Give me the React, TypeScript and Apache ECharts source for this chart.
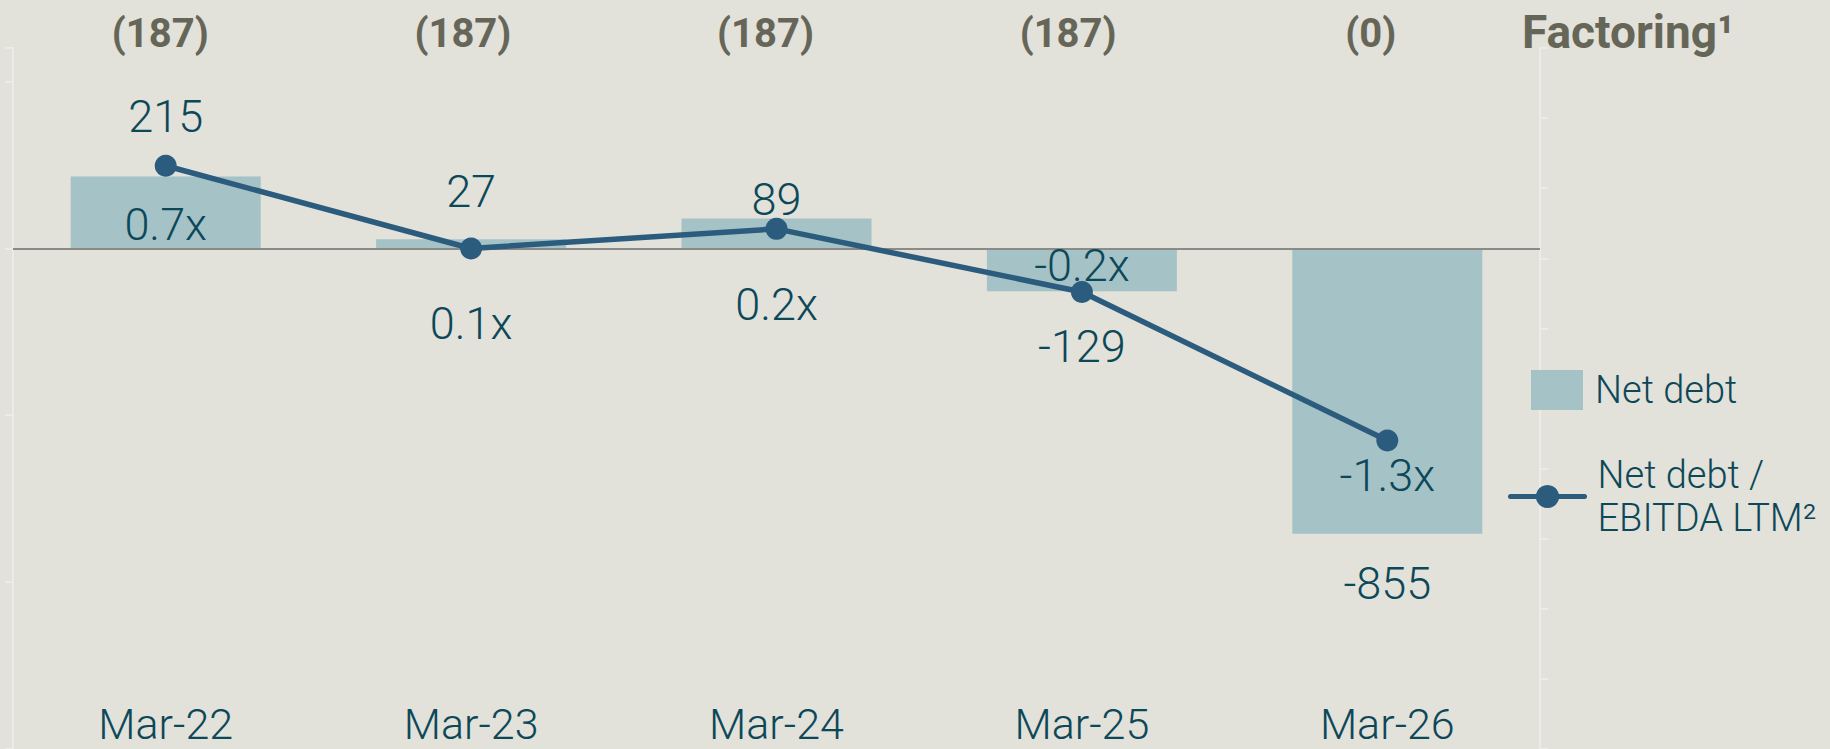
import React, { useEffect, useRef } from 'react';
import * as echarts from 'echarts';

// ---- data ----
const categories = ['Mar-22', 'Mar-23', 'Mar-24', 'Mar-25', 'Mar-26'];
const netDebt = [215, 27, 89, -129, -855];
const leverage = [0.66, 0.07, 0.21, -0.24, -1.3];
const factoring = [187, 187, 187, 187, 0];

const barName = 'Net debt';
const lineName = 'Net debt / EBITDA LTM²';
const factoringTitle = 'Factoring¹';

// ---- styles ----
const FONT = 'Roboto';
const W = 300;
const BG = '#e2e1da';
const BAR = '#a5c2c7';
const LINE = '#2b5c7d';
const TEXT = '#0c4858';
const GREY = '#666658';
const ZERO = '#8a8a86';
const AXIS = '#ecebe6';

// label placement (style only)
const barLabelPlacement: [string, number][] = [
  ['top', 38],
  ['top', 25],
  ['top', -3],
  ['bottom', 33],
  ['bottom', 27],
];
const lineLabelDy = [59, 75, 76, -26, 35];

export default function App() {
  const ref = useRef<HTMLDivElement>(null);

  useEffect(() => {
    document.body.style.margin = '0';
    if (!ref.current) return;
    const chart = echarts.init(ref.current, null, { renderer: 'svg' });

    const option: any = {
      animation: false,
      backgroundColor: BG,
      textStyle: { fontFamily: FONT },
      grid: [
        { left: 13, width: 1527, top: 48, height: 708 },
        { left: 9, width: 1513, top: 60, height: 100 },
      ],
      legend: [
        {
          data: [barName],
          left: 1531,
          top: 370,
          padding: 0,
          itemWidth: 52,
          itemHeight: 40,
          icon: 'rect',
          selectedMode: false,
          textStyle: { fontSize: 38, fontWeight: W, color: TEXT, fontFamily: FONT, padding: [0, 0, 0, 7] },
        },
        {
          data: [lineName],
          left: 1508,
          top: 429.5,
          padding: 0,
          itemWidth: 74,
          itemHeight: 29,
          selectedMode: false,
          lineStyle: { width: 5, color: LINE, cap: 'round' },
          formatter: () => 'Net debt /\nEBITDA LTM²',
          textStyle: {
            fontSize: 38,
            fontWeight: W,
            lineHeight: 43,
            color: TEXT,
            fontFamily: FONT,
            padding: [48, 0, 0, 8],
          },
        },
      ],
      xAxis: [
        {
          type: 'category',
          gridIndex: 0,
          data: categories,
          boundaryGap: true,
          axisLine: { show: false, onZero: false },
          axisTick: { show: false },
          axisLabel: { inside: true, margin: 4, fontSize: 43, fontWeight: W, color: TEXT, fontFamily: FONT },
        },
        {
          type: 'category',
          gridIndex: 1,
          position: 'top',
          data: categories,
          axisLine: { show: false },
          axisTick: { show: false },
          axisLabel: {
            margin: 7,
            fontSize: 40,
            fontWeight: 'bold',
            color: GREY,
            fontFamily: FONT,
            formatter: (_v: string, i: number) => `(${factoring[i]})`,
          },
        },
      ],
      yAxis: [
        {
          type: 'value',
          gridIndex: 0,
          position: 'left',
          min: -1500,
          max: 600,
          interval: 500,
          axisLine: { show: true, lineStyle: { color: AXIS, width: 2 } },
          axisTick: { show: true, length: 8, lineStyle: { color: AXIS, width: 2 } },
          axisLabel: { show: false },
          splitLine: { show: false },
        },
        {
          type: 'value',
          gridIndex: 0,
          position: 'right',
          min: -3.5,
          max: 1.5,
          interval: 0.5,
          axisLine: { show: true, lineStyle: { color: AXIS, width: 2 } },
          axisTick: { show: true, length: 8, lineStyle: { color: AXIS, width: 2 } },
          axisLabel: { show: false },
          splitLine: { show: false },
        },
        { type: 'value', gridIndex: 1, show: false },
      ],
      series: [
        {
          name: barName,
          type: 'bar',
          xAxisIndex: 0,
          yAxisIndex: 0,
          barWidth: 190,
          itemStyle: { color: BAR },
          label: { show: true, fontSize: 45, fontWeight: W, color: TEXT, fontFamily: FONT },
          data: netDebt.map((v, i) => ({
            value: v,
            label: { position: barLabelPlacement[i][0], distance: barLabelPlacement[i][1] },
          })),
          markLine: {
            silent: true,
            symbol: ['none', 'none'],
            label: { show: false },
            lineStyle: { color: ZERO, width: 2, type: 'solid' },
            data: [{ yAxis: 0 }],
          },
          z: 2,
        },
        {
          name: lineName,
          type: 'line',
          xAxisIndex: 0,
          yAxisIndex: 1,
          symbol: 'circle',
          symbolSize: 22,
          lineStyle: { width: 5.5, color: LINE },
          itemStyle: { color: LINE },
          label: {
            show: true,
            position: 'inside',
            fontSize: 45,
            fontWeight: W,
            color: TEXT,
            fontFamily: FONT,
            formatter: (p: any) => `${Number(p.value).toFixed(1)}x`,
          },
          data: leverage.map((v, i) => ({ value: v, label: { offset: [0, lineLabelDy[i]] } })),
          z: 5,
        },
      ],
      graphic: [
        {
          type: 'text',
          x: 1522,
          y: 31.5,
          style: {
            text: factoringTitle,
            font: `bold 46px ${FONT}`,
            fill: GREY,
            align: 'left',
            verticalAlign: 'middle',
          },
        },
      ],
    };

    chart.setOption(option);
    return () => chart.dispose();
  }, []);

  return <div ref={ref} style={{ width: 1830, height: 749, background: BG }} />;
}
